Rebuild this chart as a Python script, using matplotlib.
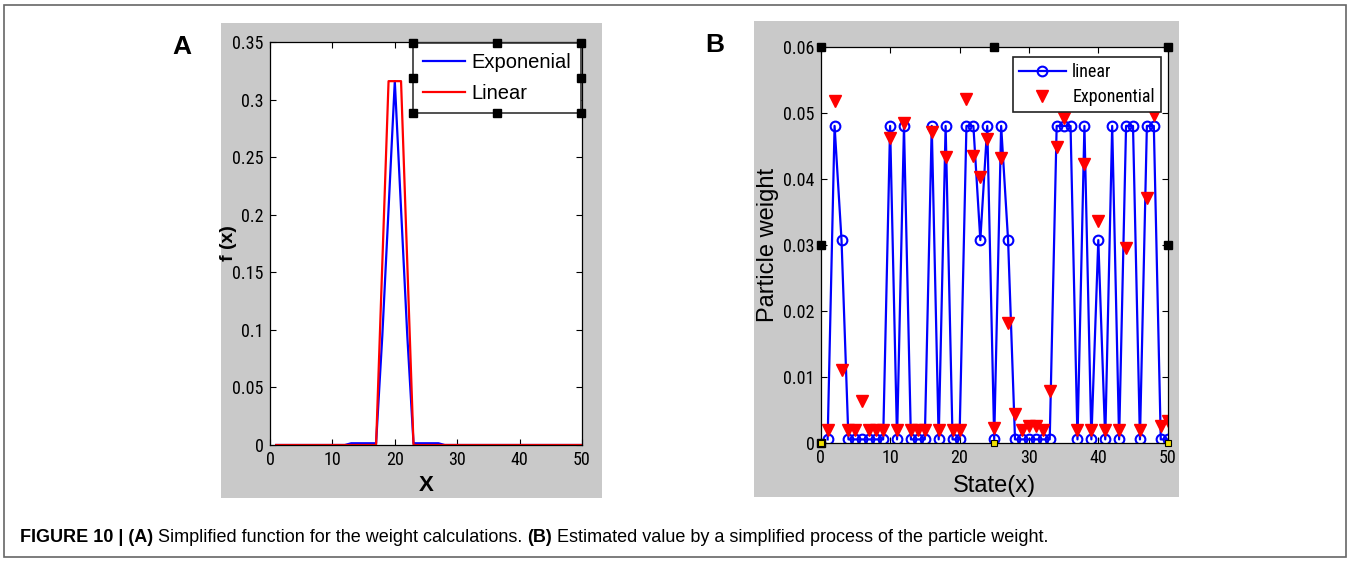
import numpy as np
import matplotlib.pyplot as plt
from matplotlib import font_manager
from matplotlib.patches import Rectangle
from matplotlib.lines import Line2D
from matplotlib.text import Annotation

# =========================
# DATA
# =========================
# panel A: simplified weight functions on x = 1..50
x_a = np.arange(1, 51)
f_exp = np.zeros(50)
f_exp[12:17] = 0.0015                         # x = 13..17
f_exp[17:22] = [0.095, 0.205, 0.316, 0.205, 0.095]   # x = 18..22
f_exp[22:27] = 0.0015                         # x = 23..27
f_lin = np.zeros(50)
f_lin[17:22] = [0.158, 0.316, 0.316, 0.316, 0.158]   # x = 18..22

# panel B: particle weight per state
state = np.arange(1, 51)
hi, mid, lo = 0.048, 0.0307, 0.0005
w_linear = [lo, hi, mid, lo, lo, lo, lo, lo, lo, hi,
            lo, hi, lo, lo, lo, hi, lo, hi, lo, lo,
            hi, hi, mid, hi, lo, hi, mid, lo, lo, lo,
            lo, lo, lo, hi, hi, hi, lo, hi, lo, mid,
            lo, hi, lo, hi, hi, lo, hi, hi, lo, lo]
# states 36, 42, 45 sit behind the legend box
w_exp = [0.0020, 0.0517, 0.0110, 0.0020, 0.0020, 0.0063, 0.0020, 0.0020, 0.0020, 0.0461,
         0.0020, 0.0485, 0.0020, 0.0020, 0.0020, 0.0471, 0.0020, 0.0433, 0.0020, 0.0020,
         0.0520, 0.0434, 0.0402, 0.0460, 0.0023, 0.0432, 0.0181, 0.0043, 0.0020, 0.0025,
         0.0025, 0.0020, 0.0079, 0.0448, 0.0492, 0.0530, 0.0020, 0.0422, 0.0020, 0.0336,
         0.0020, 0.0530, 0.0020, 0.0295, 0.0530, 0.0020, 0.0370, 0.0497, 0.0026, 0.0033]

caption_parts = [("FIGURE 10 | (A)", "bold"),
                 (" Simplified function for the weight calculations. ", "normal"),
                 ("(B)", "bold"),
                 (" Estimated value by a simplified process of the particle weight.", "normal")]

# =========================
# FONTS
# =========================
W, H = 1351, 563
REG = ['Liberation Sans', 'DejaVu Sans']
installed = {f.name for f in font_manager.fontManager.ttflist}
narrow_name = None
for cand in ['Liberation Sans Narrow', 'Roboto Condensed', 'Open Sans Condensed']:
    if cand in installed:
        narrow_name = cand
        break
if narrow_name:
    NARROW, TICK_SIZE, LEGB_SIZE = [narrow_name] + REG, 13, 13
else:
    NARROW, TICK_SIZE, LEGB_SIZE = REG, 11.5, 11.5
plt.rcParams['font.family'] = REG

fig = plt.figure(figsize=(W / 100, H / 100), dpi=100)


def fbox(x0, y0, x1, y1):
    # pixel box (top-left origin) -> figure fraction rect
    return [x0 / W, 1 - y1 / H, (x1 - x0) / W, (y1 - y0) / H]


def grey_panel(x0, y0, x1, y1):
    r = fbox(x0, y0, x1, y1)
    fig.add_artist(Rectangle((r[0], r[1]), r[2], r[3], transform=fig.transFigure,
                             facecolor='#c9c9c9', edgecolor='none', zorder=-5))


# outer frame
r = fbox(3.5, 4.5, 1345.5, 557)
fig.add_artist(Rectangle((r[0], r[1]), r[2], r[3], transform=fig.transFigure,
                         fill=False, edgecolor='#666666', lw=1.2, zorder=-4))

grey_panel(221, 23, 602, 498)
grey_panel(754, 21, 1179, 497)


def style_axes(ax):
    ax.set_facecolor('white')
    ax.tick_params(direction='in', top=True, right=True, length=4, width=0.8,
                   labelsize=TICK_SIZE, pad=4.5)
    for lab in ax.get_xticklabels() + ax.get_yticklabels():
        lab.set_family(NARROW)
    for s in ax.spines.values():
        s.set_linewidth(0.9)


# ---------- panel A ----------
axA = fig.add_axes(fbox(270, 42, 582, 445))
axA.plot(x_a, f_exp, color='#0000ff', lw=1.6, label='Exponenial')
axA.plot(x_a, f_lin, color='#ff0000', lw=1.6, label='Linear')
axA.set_xlim(0, 50)
axA.set_ylim(0, 0.35)
axA.set_xticks(range(0, 51, 10))
axA.set_yticks(np.arange(0, 0.351, 0.05))
axA.set_yticklabels(['0', '0.05', '0.1', '0.15', '0.2', '0.25', '0.3', '0.35'])
style_axes(axA)
axA.set_xlabel('X', fontsize=16, fontweight='bold')
axA.xaxis.set_label_coords(0.5, -30 / 403)
axA.set_ylabel('f (x)', fontsize=14, fontweight='bold')
axA.yaxis.set_label_coords(-33 / 312, 0.5)
legA = axA.legend(loc='upper right', bbox_to_anchor=(1.0, 1.0), fontsize=14.5,
                  frameon=True, fancybox=False, edgecolor='#333333', framealpha=1,
                  handlelength=2.1, handletextpad=0.3, labelspacing=0.6,
                  borderpad=0.5, borderaxespad=0.05)
legA.get_frame().set_linewidth(1.2)
fig.text(182 / W, 1 - 47 / H, 'A', fontsize=19, fontweight='bold',
         ha='center', va='center')

# ---------- panel B ----------
axB = fig.add_axes(fbox(820.7, 46.7, 1167.7, 442.7))
axB.plot(state, w_linear, '-o', color='#0000ff', lw=1.6, ms=7,
         mfc='none', mew=1.5, label='linear')
axB.plot(state, w_exp, 'v', color='#ff0000', ms=8, mec='#ff0000', label='Exponential')
axB.set_xlim(0, 50)
axB.set_ylim(0, 0.06)
axB.set_xticks(range(0, 51, 10))
axB.set_yticks(np.arange(0, 0.061, 0.01))
axB.set_yticklabels(['0', '0.01', '0.02', '0.03', '0.04', '0.05', '0.06'])
style_axes(axB)
axB.set_xlabel('State(x)', fontsize=17)
axB.xaxis.set_label_coords(0.5, -32 / 396)
axB.set_ylabel('Particle weight', fontsize=17)
axB.yaxis.set_label_coords(-42 / 347, 0.5)
legB = axB.legend(loc='upper right', bbox_to_anchor=(0.981, 0.975),
                  prop={'family': NARROW, 'size': LEGB_SIZE},
                  frameon=True, fancybox=False, edgecolor='#222222', framealpha=1,
                  handlelength=2.6, handletextpad=0.35, labelspacing=0.4,
                  borderpad=0.35, borderaxespad=0)
legB.get_frame().set_linewidth(1.2)
fig.text(715 / W, 1 - 45 / H, 'B', fontsize=19, fontweight='bold',
         ha='center', va='center')

# MATLAB selection handles
hb = dict(marker='s', ms=6, color='black', ls='none', clip_on=False, zorder=10)
axB.plot([0, 0.5, 1, 0, 1, 0], [1, 1, 1, 0.5, 0.5, 0], transform=axB.transAxes, **hb)
axB.plot([0, 0.5, 1], [0, 0, 0], transform=axB.transAxes, marker='s', ms=5,
         mfc='#f0e000', mec='black', mew=0.8, ls='none', clip_on=False, zorder=11)

fig.canvas.draw()
bb = legA.get_window_extent().transformed(fig.transFigure.inverted())
hx = [bb.x0, (bb.x0 + bb.x1) / 2, bb.x1]
hy = [bb.y0, (bb.y0 + bb.y1) / 2, bb.y1]
pts = [(a, b) for a in hx for b in hy if not (a == hx[1] and b == hy[1])]
fig.add_artist(Line2D([p[0] for p in pts], [p[1] for p in pts], transform=fig.transFigure,
                      marker='s', ms=5.5, color='black', ls='none', zorder=10))

# ---------- caption ----------
anchor = fig.text(20 / W, 1 - 537 / H, caption_parts[0][0], fontsize=13,
                  fontweight=caption_parts[0][1], va='center', ha='left')
for txt, wt in caption_parts[1:]:
    anchor = fig.add_artist(Annotation(txt, xy=(1, 0), xycoords=anchor,
                                       va='bottom', ha='left',
                                       fontsize=13, fontweight=wt))

fig.savefig('out.png', dpi=100)
